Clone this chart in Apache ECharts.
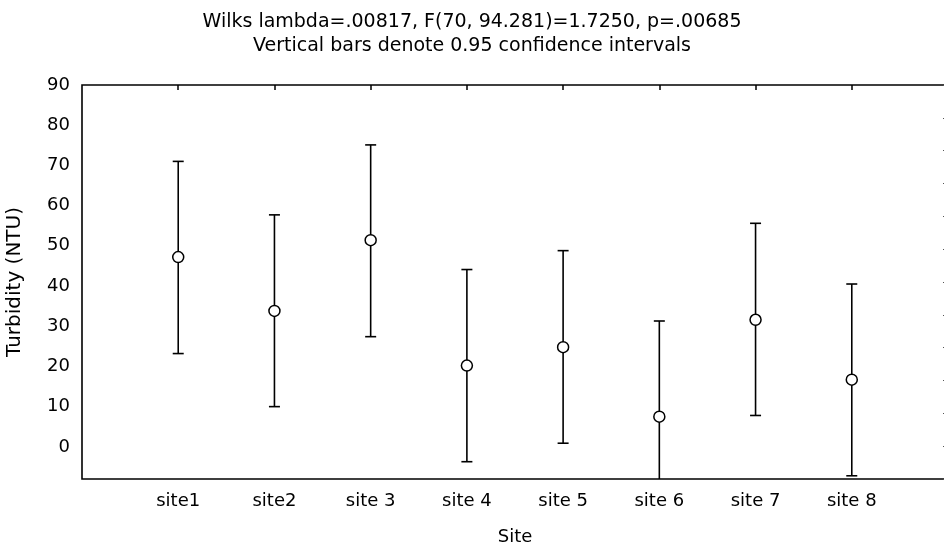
<!DOCTYPE html>
<html>
<head>
<meta charset="utf-8">
<script src="https://cdn.jsdelivr.net/npm/echarts@6/dist/echarts.min.js"></script>
<style>html,body{margin:0;padding:0;background:#fff;}#c{width:944px;height:556px;}</style>
</head>
<body>
<div id="c"></div>
<script>
const sites = ['site1', 'site2', 'site 3', 'site 4', 'site 5', 'site 6', 'site 7', 'site 8'];
const means = [47.2, 33.8, 51.4, 20.2, 24.8, 7.5, 31.6, 16.7];
const upper = [71.0, 57.7, 75.1, 44.1, 48.8, 31.3, 55.6, 40.5];
const lower = [23.2, 10.0, 27.4, -3.7, 0.9, -16.3, 7.8, -7.2];
const yTicks = [0, 10, 20, 30, 40, 50, 60, 70, 80, 90];
const titleLines = ['Wilks lambda=.00817, F(70, 94.281)=1.7250, p=.00685', 'Vertical bars denote 0.95 confidence intervals'];

const FONT = "'DejaVu Sans', Verdana, sans-serif";
const sitePos = sites.map((s, i) => i + 1);

const chart = echarts.init(document.getElementById('c'), null, {renderer: 'canvas'});
chart.setOption({
  animation: false,
  backgroundColor: '#fff',
  title: {
    text: titleLines.join('\n'),
    left: 'center', top: 5,
    textStyle: {fontFamily: FONT, fontSize: 19, fontWeight: 'normal', color: '#000', lineHeight: 24}
  },
  grid: {left: 82, top: 85, width: 866, bottom: 77, show: true, borderColor: '#000', borderWidth: 1.6, backgroundColor: '#fff', containLabel: false, outerBoundsMode: 'none'},
  xAxis: [{
    type: 'value', min: 0, max: 9, position: 'bottom',
    name: 'Site', nameLocation: 'middle', nameGap: 49,
    nameTextStyle: {fontFamily: FONT, fontSize: 18, color: '#000'},
    axisLine: {show: false, onZero: false}, axisTick: {show: false}, splitLine: {show: false},
    axisLabel: {customValues: sitePos, formatter: v => sites[v - 1] || '', fontFamily: FONT, fontSize: 18, color: '#000', margin: 13}
  }, {
    type: 'value', min: 0, max: 9, position: 'top',
    axisLine: {show: false, onZero: false}, splitLine: {show: false}, axisLabel: {show: false},
    axisTick: {show: true, inside: true, length: 5, customValues: sitePos, lineStyle: {color: '#000', width: 1.5}}
  }],
  yAxis: [{
    type: 'value', min: -8, max: 90, position: 'left',
    name: 'Turbidity (NTU)', nameLocation: 'middle', nameGap: 57,
    nameTextStyle: {fontFamily: FONT, fontSize: 20, color: '#000'},
    axisLine: {show: false, onZero: false}, axisTick: {show: false}, splitLine: {show: false},
    axisLabel: {customValues: yTicks, fontFamily: FONT, fontSize: 18, color: '#000', margin: 12}
  }, {
    type: 'value', min: 0, max: 12, interval: 1, position: 'right',
    axisLine: {show: false, onZero: false}, splitLine: {show: false}, axisLabel: {show: false},
    axisTick: {show: true, inside: true, length: 5, lineStyle: {color: '#555', width: 1}}
  }],
  series: [{
    type: 'custom',
    xAxisIndex: 0, yAxisIndex: 0,
    clip: true,
    data: sites.map((s, i) => [sitePos[i], lower[i], upper[i]]),
    renderItem: function (params, api) {
      const lo = api.coord([api.value(0), api.value(1)]);
      const hi = api.coord([api.value(0), api.value(2)]);
      const hw = 5.5;
      const st = {stroke: '#000', lineWidth: 1.6};
      return {
        type: 'group',
        children: [
          {type: 'line', shape: {x1: lo[0], y1: lo[1], x2: hi[0], y2: hi[1]}, style: st},
          {type: 'line', shape: {x1: hi[0] - hw, y1: hi[1], x2: hi[0] + hw, y2: hi[1]}, style: st},
          {type: 'line', shape: {x1: lo[0] - hw, y1: lo[1], x2: lo[0] + hw, y2: lo[1]}, style: st}
        ]
      };
    }
  }, {
    type: 'scatter',
    xAxisIndex: 0, yAxisIndex: 0,
    symbol: 'circle', symbolSize: 11,
    itemStyle: {color: '#fff', borderColor: '#000', borderWidth: 1.5, opacity: 1},
    data: sites.map((s, i) => [sitePos[i], means[i]]),
    z: 5
  }]
});
</script>
</body>
</html>
